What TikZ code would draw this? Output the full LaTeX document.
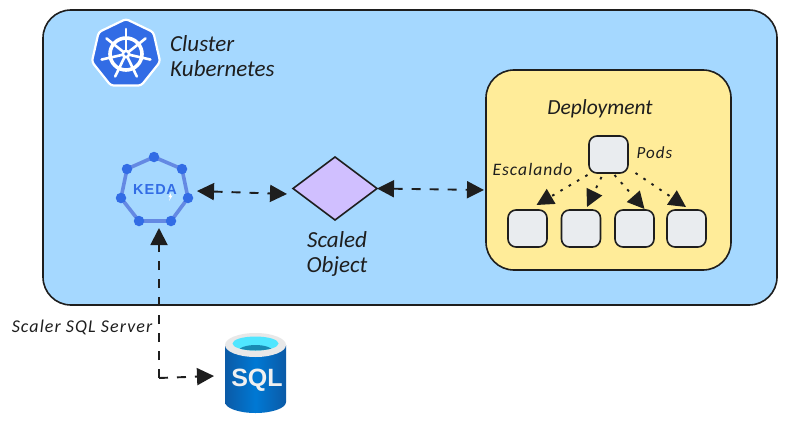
\documentclass[tikz,border=0pt]{standalone}
\usepackage{fontspec}
\setmainfont{Lato}
\newfontfamily\handfont{Carlito}[ItalicFont=* Italic]
\newfontfamily\handwide{Carlito}[ItalicFont=* Italic,LetterSpace=6]
\newfontfamily\boldsans{Liberation Sans}[BoldFont=* Bold]
\usetikzlibrary{arrows.meta,shapes.geometric,calc}
\definecolor{ink}{HTML}{1E1E1E}
\definecolor{clusterfill}{HTML}{A5D8FF}
\definecolor{deployfill}{HTML}{FFEC99}
\definecolor{podfill}{HTML}{E9ECEF}
\definecolor{diafill}{HTML}{D0BFFF}
\definecolor{kblue}{HTML}{326CE5}
\definecolor{kline}{HTML}{6489E3}
\definecolor{sqldark}{HTML}{0B5AA6}
\definecolor{sqlmid}{HTML}{0078D4}
\definecolor{sqlgrey}{HTML}{E8E8E8}
\definecolor{sqlcyan}{HTML}{50E6FF}
\definecolor{sqlteal}{HTML}{198AB3}
\tikzset{
  box/.style={draw=ink,line width=1.6pt,rounded corners=#1,inner sep=0pt,outer sep=0pt,anchor=north west},
  podbox/.style={draw=ink,line width=1.6pt,fill=podfill,rounded corners=8pt,minimum width=39pt,minimum height=37pt,inner sep=0pt,outer sep=0pt},
  hand/.style={text=ink,inner sep=0pt,align=#1},
  hand/.default=center,
  bighand/.style={font=\handfont\itshape\fontsize{23}{25}\selectfont},
  smallhand/.style={font=\handwide\itshape\fontsize{18}{20}\selectfont},
  headed/.style={-{Triangle[length=17pt,width=17pt]},draw=ink,line width=1.9pt},
  dashlink/.style={headed,dash pattern=on 9pt off 9pt},
  dotlink/.style={headed,dash pattern=on 2.6pt off 7pt},
  twoway/.style={{Triangle[length=17pt,width=17pt]}-{Triangle[length=17pt,width=17pt]},draw=ink,line width=1.9pt,dash pattern=on 9pt off 9pt},
  kdot/.style={fill=kblue,draw=none,circle,minimum size=10.5pt,inner sep=0pt}
}
\begin{document}
\begin{tikzpicture}[x=1pt,y=-1pt]
\useasboundingbox (0,0) rectangle (786,425);
\fill[white] (0,0) rectangle (786,425);
% cluster
\draw[draw=ink,line width=1.6pt,fill=clusterfill,rounded corners=28pt] (43,10) rectangle (777,305);
% kubernetes logo
\begin{scope}[shift={(126,54)}]
 \draw[fill=kblue,draw=white,line width=2.2pt,rounded corners=3pt]
   (90:35pt)--(38.57:35pt)--(-12.86:35pt)--(-64.29:35pt)--(-115.71:35pt)--(-167.14:35pt)--(141.43:35pt)--cycle;
 \draw[white,line width=3.6pt] (0,0) circle[radius=16pt];
 \foreach \a in {90,141.43,192.86,244.29,295.71,347.14,38.57}{
   \draw[white,line width=2.6pt,line cap=round] (\a:3pt)--(\a:25pt);
 }
 \fill[white] (0,0) circle[radius=4.5pt];
 \fill[kblue] (0,0) circle[radius=1.8pt];
\end{scope}
\node[hand=left,anchor=west,bighand] (clustertext) at (170,56) {Cluster\\Kubernetes};
% deployment
\node[box=28pt,fill=deployfill,minimum width=245pt,minimum height=200pt] (deploy) at (486,70) {};
\node[hand,font=\handfont\itshape\fontsize{21.5}{25}\selectfont] (deploytext) at (600,109) {Deployment};
\node[podbox] (top) at (608.5,154.5) {};
\node[podbox] (p1) at (527.5,228.5) {};
\node[podbox] (p2) at (581,228.5) {};
\node[podbox] (p3) at (634.5,228.5) {};
\node[podbox] (p4) at (686.5,228.5) {};
\node[hand,font=\handwide\itshape\fontsize{17}{19}\selectfont] (podstext) at (654.5,153) {Pods};
\node[hand,font=\handwide\itshape\fontsize{17.5}{19}\selectfont] (esctext) at (532.5,169) {Escalando};
\draw[dotlink] ($(top.south)+(-21,2)$) -- ($(p1.north)+(9,-5)$);
\draw[dotlink] ($(top.south)+(-7,4)$) -- ($(p2.north)+(6,-3)$);
\draw[dotlink] ($(top.south)+(6,2)$) -- ($(p3.north)+(10,-1)$);
\draw[dotlink] ($(top.south)+(27,0)$) -- ($(p4.north)+(-0.5,-3)$);
% keda
\draw[kline,line width=3.6pt] (154,157)--(182,169)--(188,198)--(171,221)--(139,221)--(121,198)--(127,169)--cycle;
\node[kdot] (k1) at (154,157) {};
\node[kdot] (k2) at (182,169) {};
\node[kdot] (k3) at (188,198) {};
\node[kdot] (k4) at (171,221) {};
\node[kdot] (k5) at (139,221) {};
\node[kdot] (k6) at (121,198) {};
\node[kdot] (k7) at (127,169) {};
\node[circle,minimum size=84pt,inner sep=0pt,outer sep=0pt] (keda) at (155,190) {};
\node[font=\boldsans\bfseries\fontsize{14.5}{16}\selectfont,text=kblue,inner sep=0pt] (kedatext) at (155,190) {K\kern1pt E\kern1pt D\kern0.5pt A};
\fill[white] (171,193)--(168.5,197)--(170.2,197)--(169,201)--(172.5,195.6)--(170.8,195.6)--cycle;
% diamond
\node[diamond,draw=ink,line width=1.6pt,fill=diafill,inner sep=0pt,outer sep=0pt,minimum width=84pt,minimum height=63pt] (scaled) at (335,188.5) {};
\node[hand,bighand] (scaledtext) at (337,254) {Scaled\\Object};
% sql
\shade[left color=sqldark,right color=sqldark,middle color=sqlmid] (225,345)--(225,402) arc[start angle=180,end angle=360,x radius=30.5pt,y radius=11pt]--(286,345)--cycle;
\fill[sqlgrey] (255.5,345) ellipse[x radius=30.5pt,y radius=12pt];
\begin{scope}
 \clip (255.5,343.5) ellipse[x radius=23pt,y radius=7pt];
 \fill[sqlcyan] (225,330) rectangle (286,360);
 \fill[sqlteal] (255.5,352) ellipse[x radius=18pt,y radius=7pt];
\end{scope}
\node[font=\boldsans\bfseries\fontsize{25}{28}\selectfont,text=white!94!black,inner sep=0pt] (sql) at (257,380) {SQL};
\node[minimum width=61pt,minimum height=80pt,inner sep=0pt,outer sep=0pt] (sqlicon) at (255.5,373) {};
\node[hand,font=\handwide\itshape\fontsize{18}{20}\selectfont] (scalertext) at (82,327) {Scaler SQL Server};
% connectors
\coordinate (elbow) at (159,378);
\draw[twoway] ($(keda.east)+(0,1)$) -- ($(scaled.west)+(-6,5.5)$);
\draw[twoway] (scaled.east) -- ($(deploy.west)+(-2,20)$);
\draw[dashlink] (elbow) -- ($(keda.south)+(4,-4)$);
\draw[dashlink] (elbow) -- ($(sqlicon.west)+(-11,3)$);
\end{tikzpicture}
\end{document}
